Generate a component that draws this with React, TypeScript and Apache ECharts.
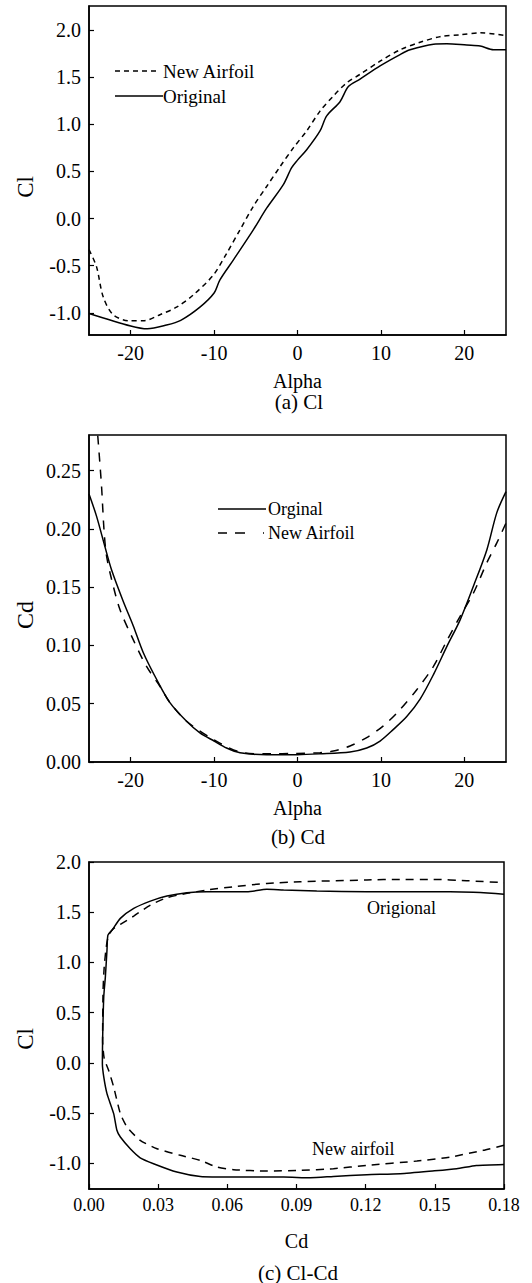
import React, { useEffect, useRef } from "react";
import * as echarts from "echarts";

// ---------- (a) Cl vs Alpha ----------
const clOrigAlpha = [-25, -20, -18, -15.7, -14, -11.7, -10, -9.3, -7.7, -5.3, -3.7, -1.7, -0.7, 0, 1.1, 2.7, 3.5, 5.1, 6.1, 7.5, 9.9, 12.3, 13.5, 16.3, 17.9, 20.3, 21.9, 23.5, 25];
const clOrigValue = [-1.007, -1.14, -1.17, -1.13, -1.08, -0.94, -0.79, -0.65, -0.44, -0.12, 0.11, 0.36, 0.54, 0.62, 0.73, 0.93, 1.09, 1.24, 1.4, 1.48, 1.62, 1.74, 1.79, 1.85, 1.855, 1.84, 1.83, 1.79, 1.79];
const clNewAlpha = [-25, -24.1, -23.3, -22.1, -20.1, -18.5, -16.5, -14.5, -12.5, -10.1, -8.5, -6.9, -5.3, -3.7, -2.1, -0.5, 1.1, 2.7, 4.3, 5.9, 7.5, 9.9, 12.3, 14.7, 17.1, 19.5, 21.9, 25];
const clNewValue = [-0.33, -0.51, -0.83, -1.02, -1.085, -1.085, -1.02, -0.94, -0.81, -0.6, -0.37, -0.12, 0.13, 0.34, 0.55, 0.75, 0.93, 1.14, 1.3, 1.44, 1.53, 1.67, 1.79, 1.87, 1.93, 1.95, 1.97, 1.94];

// ---------- (b) Cd vs Alpha ----------
const cdOrigAlpha = [-25, -24.1, -23.1, -22.3, -20.9, -19.7, -18.5, -16.9, -15.3, -13.3, -11.7, -10, -8.5, -6.9, -3.7, 0, 2.7, 6.3, 8.3, 9.9, 11.5, 13.1, 14.7, 16.3, 17.9, 19.5, 21.1, 22.7, 23.9, 25];
const cdOrigValue = [0.23, 0.211, 0.185, 0.165, 0.138, 0.117, 0.094, 0.071, 0.051, 0.035, 0.025, 0.018, 0.012, 0.008, 0.0063, 0.0063, 0.007, 0.0086, 0.012, 0.018, 0.028, 0.039, 0.054, 0.075, 0.099, 0.122, 0.151, 0.182, 0.214, 0.232];
const cdNewAlpha = [-23.95, -23.5, -23.2, -22.9, -22.3, -21.3, -19.7, -18.1, -16.5, -15.3, -13.3, -10, -6.9, -3.7, 0, 2.7, 4.3, 6.3, 8.3, 10.3, 12.3, 14.3, 16.3, 17.9, 19.5, 21.1, 22.7, 23.9, 25];
const cdNewValue = [0.28, 0.237, 0.199, 0.177, 0.157, 0.131, 0.105, 0.082, 0.065, 0.051, 0.035, 0.019, 0.0086, 0.007, 0.0074, 0.008, 0.0094, 0.0137, 0.021, 0.031, 0.045, 0.062, 0.082, 0.104, 0.125, 0.145, 0.171, 0.188, 0.205];

// ---------- (c) Cl vs Cd ----------
const polarOrigCd = [0.18, 0.168, 0.1595, 0.149, 0.135, 0.1205, 0.106, 0.096, 0.0844, 0.0627, 0.0483, 0.0381, 0.028, 0.0222, 0.0179, 0.0136, 0.0121, 0.0107, 0.0078, 0.0064, 0.0058, 0.0059, 0.0064, 0.0071, 0.0078, 0.0082, 0.01, 0.0136, 0.0194, 0.0266, 0.0338, 0.0425, 0.0511, 0.0685, 0.0771, 0.0844, 0.0988, 0.1205, 0.1566, 0.1667, 0.18];
const polarOrigCl = [-1.01, -1.02, -1.053, -1.076, -1.103, -1.113, -1.13, -1.143, -1.136, -1.136, -1.13, -1.086, -1.003, -0.944, -0.854, -0.738, -0.671, -0.505, -0.306, -0.14, -0.007, 0.226, 0.658, 0.857, 1.123, 1.272, 1.322, 1.439, 1.538, 1.611, 1.661, 1.694, 1.704, 1.704, 1.728, 1.721, 1.711, 1.704, 1.704, 1.698, 1.678];
const polarNewCd = [0.18, 0.171, 0.1566, 0.1422, 0.1205, 0.106, 0.0916, 0.0771, 0.0627, 0.0555, 0.0483, 0.0396, 0.0295, 0.0222, 0.0165, 0.0136, 0.0107, 0.0085, 0.0066, 0.0059, 0.0061, 0.0066, 0.0075, 0.0085, 0.0107, 0.0143, 0.0194, 0.0266, 0.0338, 0.0425, 0.0511, 0.0627, 0.0771, 0.0916, 0.1205, 0.1349, 0.1494, 0.1638, 0.18];
const polarNewCl = [-0.82, -0.87, -0.937, -0.977, -1.02, -1.053, -1.07, -1.076, -1.063, -1.037, -0.97, -0.92, -0.854, -0.771, -0.638, -0.505, -0.239, -0.073, 0.043, 0.226, 0.724, 0.957, 1.156, 1.272, 1.339, 1.389, 1.462, 1.571, 1.645, 1.688, 1.721, 1.754, 1.787, 1.804, 1.821, 1.827, 1.827, 1.814, 1.794];

// tick values
const alphaTicks = [-20, -10, 0, 10, 20];
const clTicks = [-1.0, -0.5, 0.0, 0.5, 1.0, 1.5, 2.0];
const cdTicks = [0, 0.05, 0.1, 0.15, 0.2, 0.25];
const polarCdTicks = [0, 0.03, 0.06, 0.09, 0.12, 0.15, 0.18];

const FONT = "Liberation Serif, DejaVu Serif, serif";
const zip = (a: number[], b: number[]) => a.map((v, i) => [v, b[i]]);

function axisBase(ticks: number[], digits: number, fontSize: number, margin: number) {
  return {
    type: "value" as const,
    axisLine: { show: true, onZero: false, lineStyle: { color: "#000", width: 1.5 } },
    axisTick: { show: true, inside: true, length: 5, customValues: ticks, lineStyle: { color: "#000", width: 1.2 } },
    axisLabel: {
      customValues: ticks,
      color: "#000",
      fontFamily: FONT,
      fontSize,
      margin,
      formatter: (v: number) => v.toFixed(digits),
    },
    splitLine: { show: false },
  };
}

export default function App() {
  const ref = useRef<HTMLDivElement>(null);
  useEffect(() => {
    if (!ref.current) return;
    const chart = echarts.init(ref.current, null, { renderer: "svg" });
    const lineStyleSolid = { color: "#000", width: 1.5, type: "solid" as const };
    const gridStyle = { show: true, borderColor: "#000", borderWidth: 1.5, backgroundColor: "transparent" };
    const txt = (x: number, y: number, text: string, size: number, extra: any = {}) => ({
      type: "text",
      x,
      y,
      style: { text, fill: "#000", fontFamily: FONT, fontSize: size, verticalAlign: "middle", ...extra.style },
      ...(extra.rotation !== undefined ? { rotation: extra.rotation } : {}),
    });
    const titleStyle = { color: "#000", fontFamily: FONT, fontSize: 21, fontWeight: "normal" as const };
    chart.setOption({
      animation: false,
      backgroundColor: "#fff",
      grid: [
        { left: 89, top: 6, width: 417, height: 329, ...gridStyle },
        { left: 89, top: 435, width: 417, height: 327, ...gridStyle },
        { left: 89, top: 862, width: 415, height: 327, ...gridStyle },
      ],
      xAxis: [
        {
          ...axisBase(alphaTicks, 0, 20, 8),
          gridIndex: 0, min: -25, max: 25,
          name: "Alpha", nameLocation: "middle", nameGap: 36,
          nameTextStyle: { color: "#000", fontFamily: FONT, fontSize: 20 },
        },
        {
          ...axisBase(alphaTicks, 0, 20, 8),
          gridIndex: 1, min: -25, max: 25,
          name: "Alpha", nameLocation: "middle", nameGap: 36,
          nameTextStyle: { color: "#000", fontFamily: FONT, fontSize: 20 },
        },
        {
          ...axisBase(polarCdTicks, 2, 18, 7),
          gridIndex: 2, min: 0, max: 0.18,
          name: "Cd", nameLocation: "middle", nameGap: 42,
          nameTextStyle: { color: "#000", fontFamily: FONT, fontSize: 20 },
        },
      ],
      yAxis: [
        { ...axisBase(clTicks, 1, 20, 8), gridIndex: 0, min: -1.235, max: 2.255 },
        { ...axisBase(cdTicks, 2, 20, 8), gridIndex: 1, min: 0, max: 0.2806 },
        { ...axisBase(clTicks, 1, 20, 8), gridIndex: 2, min: -1.255, max: 2.0 },
      ],
      title: [
        { text: "(a) Cl", left: 299, top: 391, textAlign: "center", textStyle: titleStyle, padding: 0 },
        { text: "(b) Cd", left: 298, top: 826, textAlign: "center", textStyle: titleStyle, padding: 0 },
        { text: "(c) Cl-Cd", left: 298, top: 1262, textAlign: "center", textStyle: titleStyle, padding: 0 },
      ],
      graphic: [
        // y axis names
        txt(25, 187, "Cl", 23, { rotation: Math.PI / 2, style: { align: "center" } }),
        txt(25, 615, "Cd", 24, { rotation: Math.PI / 2, style: { align: "center" } }),
        txt(25, 1039, "Cl", 23, { rotation: Math.PI / 2, style: { align: "center" } }),
        // legend (a)
        { type: "line", shape: { x1: 115, y1: 71, x2: 156, y2: 71 }, style: { stroke: "#000", lineWidth: 1.5, lineDash: [5, 4] } },
        txt(163, 71, "New Airfoil", 19),
        { type: "line", shape: { x1: 115, y1: 96, x2: 163, y2: 96 }, style: { stroke: "#000", lineWidth: 1.5 } },
        txt(163, 96, "Original", 19),
        // legend (b)
        { type: "line", shape: { x1: 218, y1: 509, x2: 266, y2: 509 }, style: { stroke: "#000", lineWidth: 1.5 } },
        txt(268, 509, "Orginal", 18),
        { type: "line", shape: { x1: 218, y1: 533, x2: 265, y2: 533 }, style: { stroke: "#000", lineWidth: 1.5, lineDash: [9, 8, 10, 18, 1] } },
        txt(268, 533, "New Airfoil", 18),
        // annotations (c)
        txt(367, 908, "Origional", 18),
        txt(312, 1149, "New airfoil", 18),
      ],
      series: [
        { type: "line", name: "Original", xAxisIndex: 0, yAxisIndex: 0, data: zip(clOrigAlpha, clOrigValue), showSymbol: false, smooth: 0.3, lineStyle: lineStyleSolid },
        { type: "line", name: "New Airfoil", xAxisIndex: 0, yAxisIndex: 0, data: zip(clNewAlpha, clNewValue), showSymbol: false, smooth: 0.3, lineStyle: { color: "#000", width: 1.5, type: [5, 4] } },
        { type: "line", name: "Orginal", xAxisIndex: 1, yAxisIndex: 1, data: zip(cdOrigAlpha, cdOrigValue), showSymbol: false, smooth: 0.3, lineStyle: lineStyleSolid },
        { type: "line", name: "New Airfoil", xAxisIndex: 1, yAxisIndex: 1, data: zip(cdNewAlpha, cdNewValue), showSymbol: false, smooth: 0.3, lineStyle: { color: "#000", width: 1.5, type: [9, 8] } },
        { type: "line", name: "Origional", xAxisIndex: 2, yAxisIndex: 2, data: zip(polarOrigCd, polarOrigCl), showSymbol: false, smooth: 0.2, lineStyle: lineStyleSolid },
        { type: "line", name: "New airfoil", xAxisIndex: 2, yAxisIndex: 2, data: zip(polarNewCd, polarNewCl), showSymbol: false, smooth: 0.2, lineStyle: { color: "#000", width: 1.5, type: [8, 6] } },
      ],
    });
    return () => chart.dispose();
  }, []);
  return (
    <div
      ref={ref}
      style={{ position: "absolute", left: 0, top: 0, width: 532, height: 1283, background: "#fff" }}
    />
  );
}
